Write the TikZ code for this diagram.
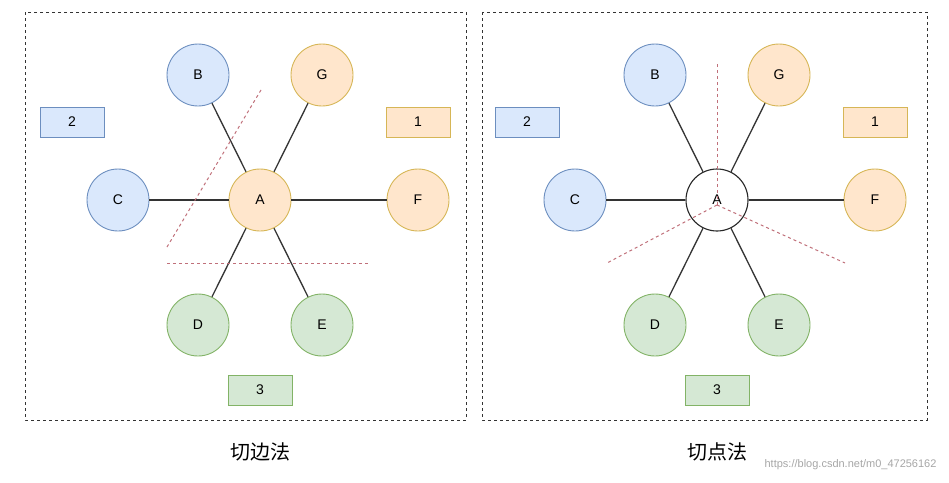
\documentclass[tikz,border=0pt]{standalone}
\usepackage{fontspec}
\setmainfont{Liberation Sans}
\newfontfamily\cjk{Noto Sans CJK SC}
\definecolor{bfill}{HTML}{DAE8FC}\definecolor{bline}{HTML}{6C8EBF}
\definecolor{ofill}{HTML}{FFE6CC}\definecolor{oline}{HTML}{D6B656}
\definecolor{gfill}{HTML}{D5E8D4}\definecolor{gline}{HTML}{82B366}
\definecolor{cutc}{HTML}{C0707A}
\begin{document}
\begin{tikzpicture}[x=1pt,y=-1pt,
 nd/.style={circle,draw,minimum size=62pt,inner sep=0pt,line width=0.9pt,font=\fontsize{14}{16}\selectfont},
 bl/.style={nd,fill=bfill,draw=bline},
 og/.style={nd,fill=ofill,draw=oline},
 gr/.style={nd,fill=gfill,draw=gline},
 wh/.style={nd,fill=white,draw=black!85,line width=1.1pt},
 bx/.style={draw,minimum width=64pt,minimum height=30pt,inner sep=0pt,line width=0.9pt,font=\fontsize{14}{16}\selectfont},
 edge/.style={draw=black!80,line width=1.3pt},
 cut/.style={draw=cutc,dashed,line width=1pt},
 panel/.style={draw=black!80,dashed,line width=0.9pt}]
\useasboundingbox (0,0) rectangle (949,482);
\draw[panel] (25,12) rectangle (466,420);
\draw[panel] (482,12) rectangle (927,420);
% left
\node[og] (A) at (260,200) {A};
\node[bl] (B) at (198,75) {B};
\node[og] (G) at (322,75) {G};
\node[bl] (C) at (118,200) {C};
\node[og] (F) at (418,200) {F};
\node[gr] (D) at (198,325) {D};
\node[gr] (E) at (322,325) {E};
\foreach \n in {B,G,C,F,D,E} \draw[edge] (A) -- (\n);
\node[bx,fill=bfill,draw=bline] (b2) at (72,122) {2};
\node[bx,fill=ofill,draw=oline] (b1) at (418,122) {1};
\node[bx,fill=gfill,draw=gline] (b3) at (260,390) {3};
\coordinate (l1) at (261,90); \coordinate (l2) at (167,247);
\coordinate (h1) at (167,263); \coordinate (h2) at (370,263);
\draw[cut] (l1) -- (l2);
\draw[cut] (h1) -- (h2);
\node[font=\cjk\fontsize{20}{24}\selectfont] (t1) at (260,452) {切边法};
% right
\node[wh] (A2) at (717,200) {A};
\node[bl] (B2) at (655,75) {B};
\node[og] (G2) at (779,75) {G};
\node[bl] (C2) at (575,200) {C};
\node[og] (F2) at (875,200) {F};
\node[gr] (D2) at (655,325) {D};
\node[gr] (E2) at (779,325) {E};
\foreach \n in {B2,G2,C2,F2,D2,E2} \draw[edge] (A2) -- (\n);
\node[bx,fill=bfill,draw=bline] (c2) at (527,122) {2};
\node[bx,fill=ofill,draw=oline] (c1) at (875,122) {1};
\node[bx,fill=gfill,draw=gline] (c3) at (717,390) {3};
\coordinate (o) at (717,205);
\coordinate (v) at (717,63); \coordinate (p1) at (607,263); \coordinate (p2) at (845,263);
\draw[cut] (o) -- (v);
\draw[cut] (o) -- (p1);
\draw[cut] (o) -- (p2);
\node[font=\cjk\fontsize{20}{24}\selectfont] (t2) at (717,452) {切点法};
\node[font=\fontsize{11}{13}\selectfont,text=black!35,anchor=east] (wm) at (940,465) {https://blog.csdn.net/m0\_47256162};
\end{tikzpicture}
\end{document}
